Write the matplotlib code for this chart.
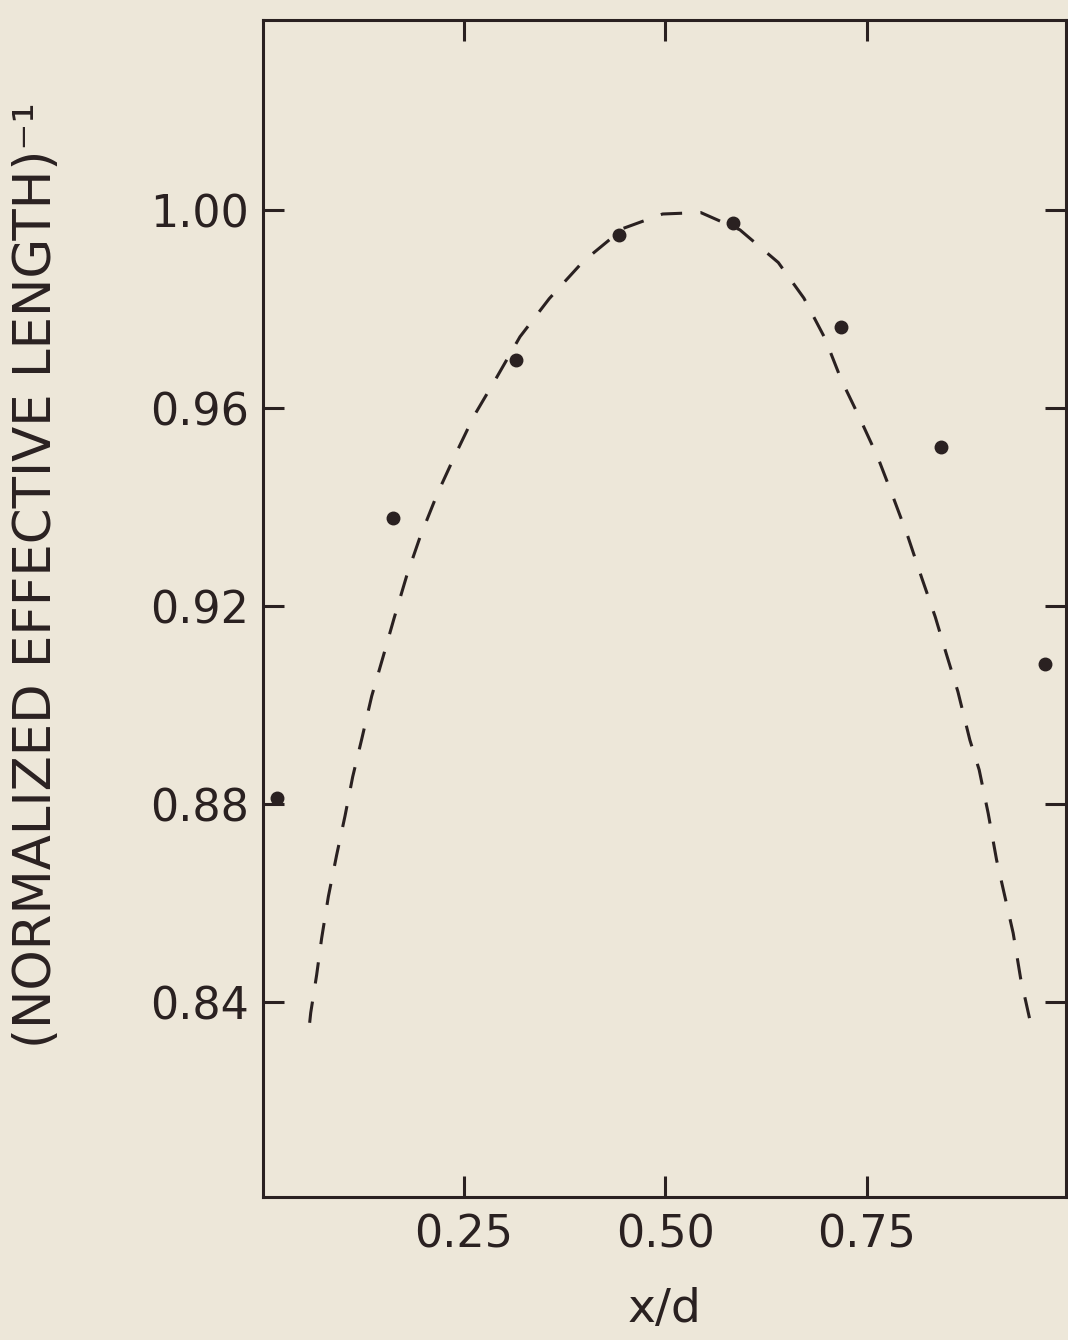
import matplotlib
matplotlib.use("Agg")
import matplotlib.pyplot as plt

# 测量点 (x/d, 归一化有效长度的倒数)
x_pts = [0.018, 0.162, 0.3145, 0.4427, 0.5841, 0.7174, 0.8414, 0.9712]
y_pts = [0.8812, 0.9377, 0.9697, 0.9949, 0.9973, 0.9763, 0.9522, 0.9083]

# 虚线曲线，从图上逐点读取
x_curve = [0.0585, 0.0598, 0.0672, 0.0734, 0.0817, 0.0920, 0.1024, 0.1119,
           0.1231, 0.1355, 0.1499, 0.1632, 0.1789, 0.1954, 0.2170, 0.2376,
           0.2624, 0.2906, 0.3195, 0.3558, 0.3978, 0.4477, 0.4965, 0.5437,
           0.5924, 0.6400, 0.6718, 0.6979, 0.7182, 0.7410, 0.7636, 0.7823,
           0.8009, 0.8182, 0.8348, 0.8484, 0.8629, 0.8778, 0.8893, 0.9005,
           0.9109, 0.9212, 0.9315, 0.9407, 0.9522]
y_curve = [0.8358, 0.8378, 0.8455, 0.8529, 0.8613, 0.8697, 0.8776, 0.8855,
           0.8931, 0.9018, 0.9099, 0.9175, 0.9261, 0.9339, 0.9427, 0.9500,
           0.9584, 0.9662, 0.9744, 0.9821, 0.9896, 0.9963, 0.9992, 0.9995,
           0.9960, 0.9894, 0.9822, 0.9741, 0.9657, 0.9580, 0.9500, 0.9421,
           0.9340, 0.9256, 0.9178, 0.9104, 0.9027, 0.8929, 0.8869, 0.8781,
           0.8687, 0.8613, 0.8539, 0.8448, 0.8364]

x_ticks = [0.25, 0.50, 0.75]
x_labels = ["0.25", "0.50", "0.75"]
y_ticks = [0.84, 0.88, 0.92, 0.96, 1.00]
y_labels = ["0.84", "0.88", "0.92", "0.96", "1.00"]

ink = "#2a2121"
paper = "#ede7d9"

fig = plt.figure(figsize=(10.68, 13.4), dpi=100, facecolor=paper)
ax = fig.add_axes([0.2458, 0.1067, 0.7523, 0.8784], facecolor=paper)

ax.plot(x_curve, y_curve, color=ink, linewidth=2.2, linestyle=(0, (7, 6)))  # 虚线
ax.plot(x_pts, y_pts, "o", color=ink, markersize=9)  # 数据点

ax.set_xlim(0, 0.997)
ax.set_ylim(0.8006, 1.0384)
ax.set_xticks(x_ticks)
ax.set_xticklabels(x_labels)
ax.set_yticks(y_ticks)
ax.set_yticklabels(y_labels)

ax.tick_params(direction="in", top=True, right=True, length=15, width=2.2,
               color=ink, labelcolor=ink, labelsize=32)
ax.tick_params(axis="x", pad=12)
ax.tick_params(axis="y", pad=10)
for s in ax.spines.values():
    s.set_linewidth(2.2)
    s.set_color(ink)

ax.set_xlabel("x/d", fontsize=34, color=ink, labelpad=22)
ax.set_ylabel("(NORMALIZED EFFECTIVE LENGTH)⁻¹", fontsize=37, color=ink)
ax.yaxis.set_label_coords(-0.25, 0.528)

fig.savefig("out.png", dpi=100, facecolor=paper)
